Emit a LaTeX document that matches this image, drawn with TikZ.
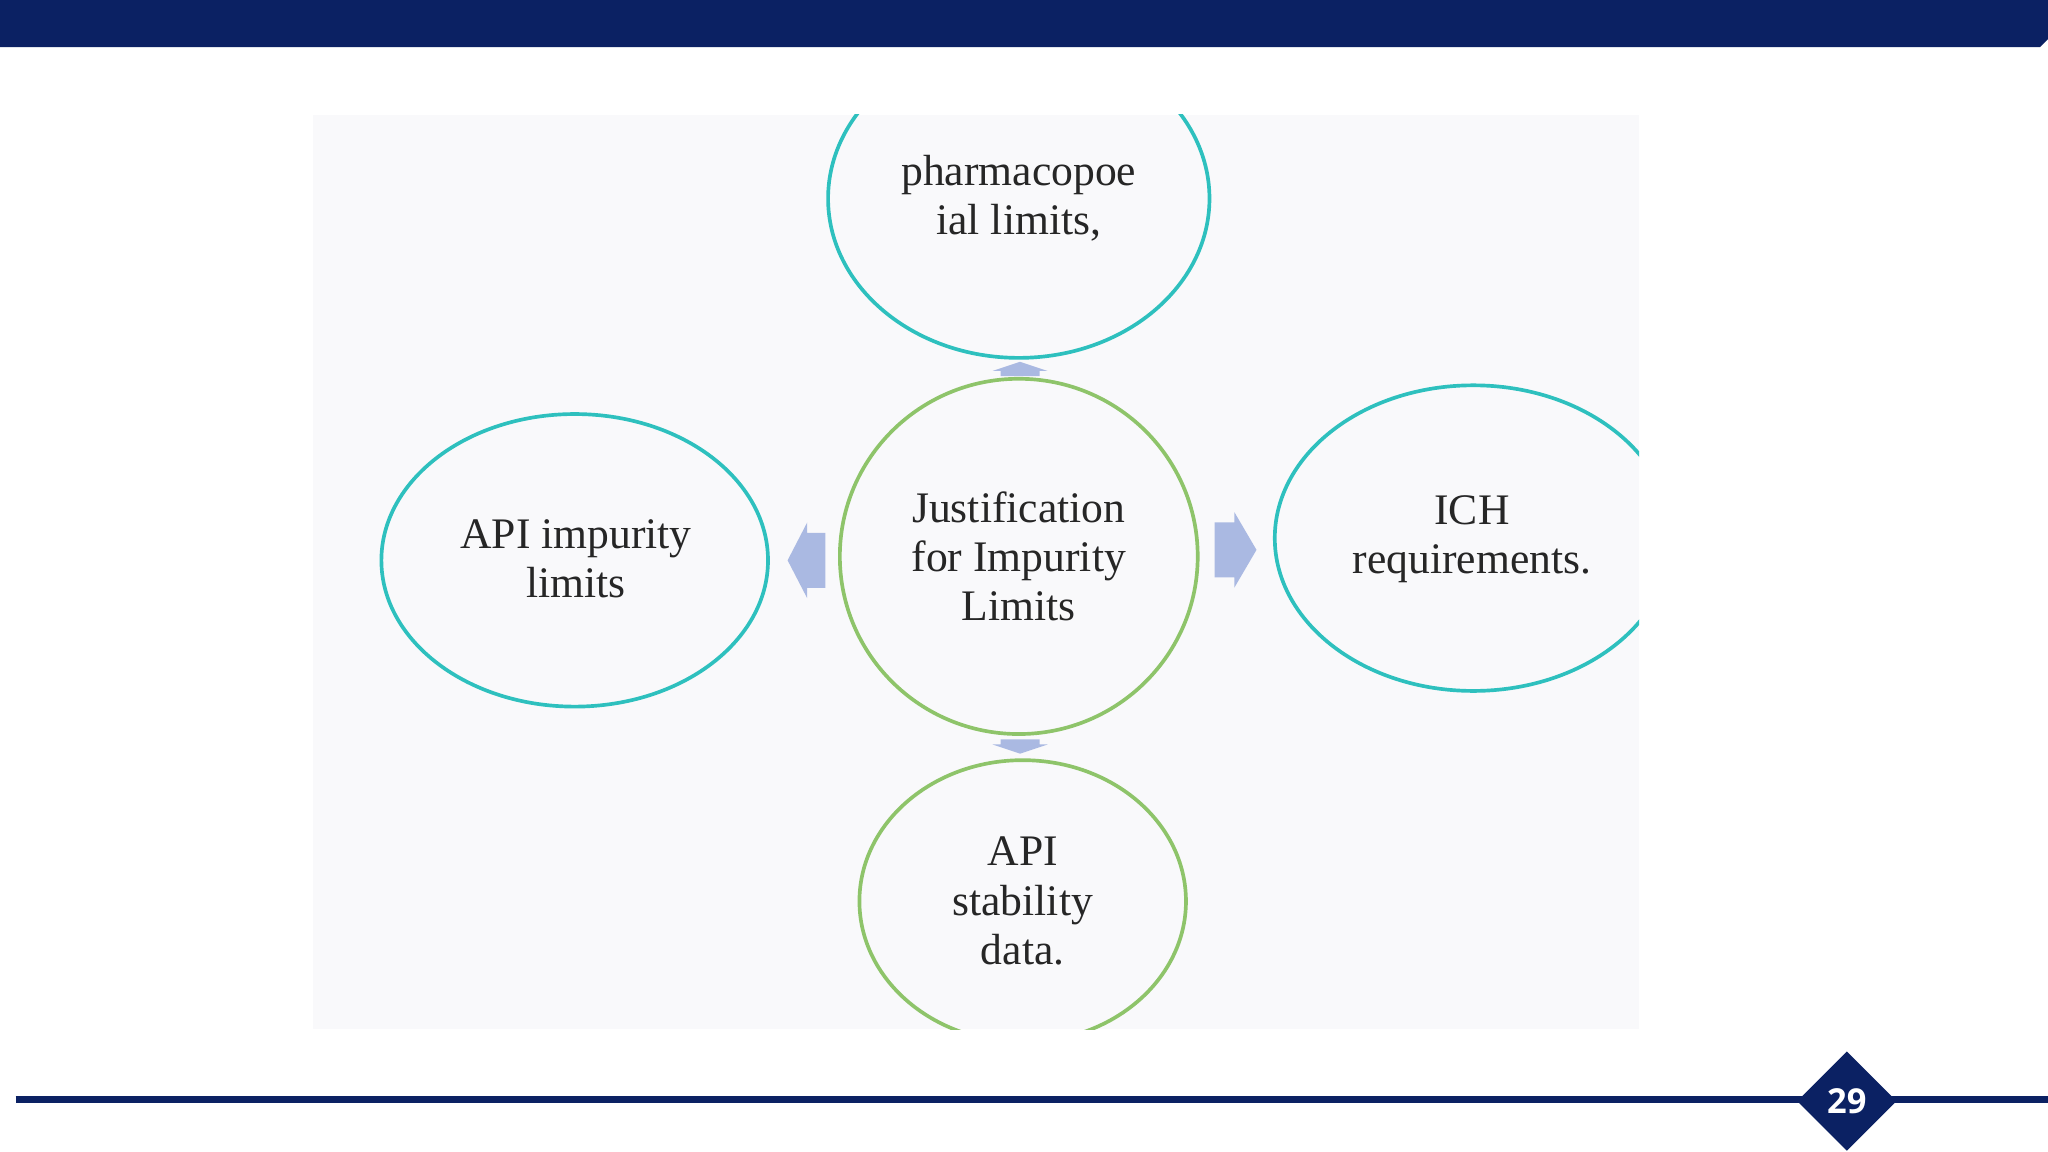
\documentclass[tikz,border=0pt]{standalone}
\usepackage{fontspec}
\setmainfont{Liberation Serif}
\newfontfamily\numfont{Open Sans}
\definecolor{navy}{HTML}{0B2163}
\definecolor{teal}{HTML}{2EC0BE}
\definecolor{lgreen}{HTML}{8EC46A}
\definecolor{arr}{HTML}{AAB9E2}
\definecolor{bgimg}{HTML}{F9F9FB}
\tikzset{
 x=0.02cm,y=-0.02cm,
 lbl/.style={align=center,font=\fontsize{19}{21.5}\selectfont,text=black!85},
 tealc/.style={draw=teal,line width=1.6pt},
 greenc/.style={draw=lgreen,line width=1.6pt},
 arrow/.style={fill=arr,draw=none}
}
\begin{document}
\begin{tikzpicture}
\useasboundingbox (0,0) rectangle (1568,882);
\fill[white] (0,0) rectangle (1568,882);
\fill[navy] (0,0) -- (1568,0) -- (1568,30) -- (1562,36) -- (0,36) -- cycle;
\fill[bgimg] (240,88) rectangle (1255,788);
\begin{scope}
\clip (240,88) rectangle (1255,788);
\draw[tealc] (780,152) ellipse [x radius=146, y radius=122];
\draw[tealc] (440,429) ellipse [x radius=148, y radius=112];
\draw[greenc] (780,426) ellipse [x radius=137, y radius=136];
\draw[tealc] (1128,412) ellipse [x radius=152, y radius=117];
\draw[greenc] (783,690) ellipse [x radius=125, y radius=108];
\end{scope}
\node[lbl] (top) at (780,152) {pharmacopoe\\ial limits,};
\node[lbl] (left) at (441,428) {API impurity\\limits};
\node[lbl] (mid) at (780,426) {Justification\\for Impurity\\Limits};
\node[lbl] (right) at (1127,413) {ICH\\requirements.};
\node[lbl] (bot) at (783,690) {API\\stability\\data.};
\fill[arrow] (632,408) -- (618,408) -- (618,400) -- (603,429) -- (618,458) -- (618,450) -- (632,450) -- cycle;
\fill[arrow] (930,400) -- (945,400) -- (945,392) -- (962,421) -- (945,450) -- (945,442) -- (930,442) -- cycle;
\fill[arrow] (766,288) -- (766,284) -- (760,284) -- (781,277) -- (802,284) -- (796,284) -- (796,288) -- cycle;
\fill[arrow] (766,566) -- (766,570) -- (760,570) -- (781,577) -- (802,570) -- (796,570) -- (796,566) -- cycle;
\draw[navy,line width=3.2pt] (12,842) -- (1568,842);
\fill[navy] (1414,805) -- (1452,843) -- (1414,881) -- (1376,843) -- cycle;
\node[text=white,font=\numfont\bfseries\fontsize{15}{17}\selectfont] (num) at (1414,843) {29};
\end{tikzpicture}
\end{document}
